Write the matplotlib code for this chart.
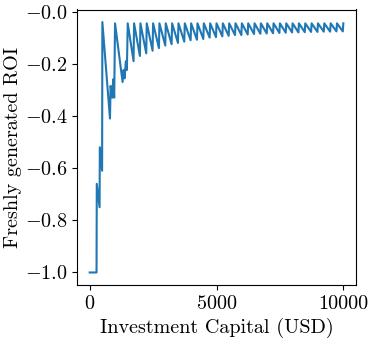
import matplotlib
matplotlib.use("Agg")
import matplotlib.pyplot as plt

plt.rcParams['font.family'] = 'serif'
plt.rcParams['font.serif'] = ['cmr10', 'DejaVu Serif']
plt.rcParams['mathtext.fontset'] = 'cm'
plt.rcParams['axes.unicode_minus'] = False

# Irregular start (capital in USD, ROI)
early_capital = [0, 270, 280, 390, 400, 490, 500, 800, 825, 888, 927, 967, 1000,
                 1297, 1336, 1375, 1427, 1466, 1500]
early_roi = [-1.0, -1.0, -0.66, -0.75, -0.52, -0.61, -0.04, -0.41, -0.285, -0.33, -0.26, -0.33, -0.045,
             -0.27, -0.224, -0.256, -0.19, -0.224, -0.045]

# Regular sawtooth: trough just before each peak, then peak
saw_capital = [1730, 1750, 1980, 2000, 2230, 2250, 2480, 2500, 2730, 2750,
               2980, 3000, 3230, 3250, 3480, 3500, 3730, 3750, 3980, 4000,
               4230, 4250, 4480, 4500, 4730, 4750, 4980, 5000, 5230, 5250,
               5480, 5500, 5730, 5750, 5980, 6000, 6230, 6250, 6480, 6500,
               6730, 6750, 6980, 7000, 7230, 7250, 7480, 7500, 7730, 7750,
               7980, 8000, 8230, 8250, 8480, 8500, 8730, 8750, 8980, 9000,
               9230, 9250, 9480, 9500, 9730, 9750, 9980, 10000]
saw_roi = [-0.19, -0.045, -0.17, -0.045, -0.16, -0.045, -0.15, -0.045, -0.14, -0.045,
           -0.13, -0.045, -0.125, -0.045, -0.12, -0.045, -0.115, -0.045, -0.11, -0.045,
           -0.108, -0.045, -0.105, -0.045, -0.10, -0.045, -0.098, -0.045, -0.095, -0.045,
           -0.093, -0.045, -0.09, -0.045, -0.09, -0.045, -0.088, -0.045, -0.086, -0.045,
           -0.085, -0.045, -0.084, -0.045, -0.083, -0.045, -0.082, -0.045, -0.081, -0.045,
           -0.08, -0.045, -0.08, -0.045, -0.079, -0.045, -0.078, -0.045, -0.078, -0.045,
           -0.077, -0.045, -0.077, -0.045, -0.076, -0.045, -0.076, -0.045]

capital = early_capital + saw_capital
roi = early_roi + saw_roi

x_ticks = [0, 5000, 10000]
x_tick_labels = ['0', '5000', '10000']
y_ticks = [-1.0, -0.8, -0.6, -0.4, -0.2, 0.0]
y_tick_labels = [r'$-1.0$', r'$-0.8$', r'$-0.6$', r'$-0.4$', r'$-0.2$', r'$-0.0$']

fig = plt.figure(figsize=(3.74, 3.43), dpi=100)
ax = fig.add_axes([77/374, 1 - 285/343, (356 - 77)/374, (285 - 9.5)/343])
ax.plot(capital, roi, color='#1f77b4', linewidth=1.5)

ax.set_xticks(x_ticks)
ax.set_xticklabels(x_tick_labels)
ax.set_yticks(y_ticks)
ax.set_yticklabels(y_tick_labels)
ax.tick_params(labelsize=14.5)
ax.set_xlabel('Investment Capital (USD)', fontsize=14.5)
ax.set_ylabel('Freshly generated ROI', fontsize=14.5)
ax.yaxis.set_label_coords(-0.198, 0.5)

fig.savefig('out.png', dpi=100)
